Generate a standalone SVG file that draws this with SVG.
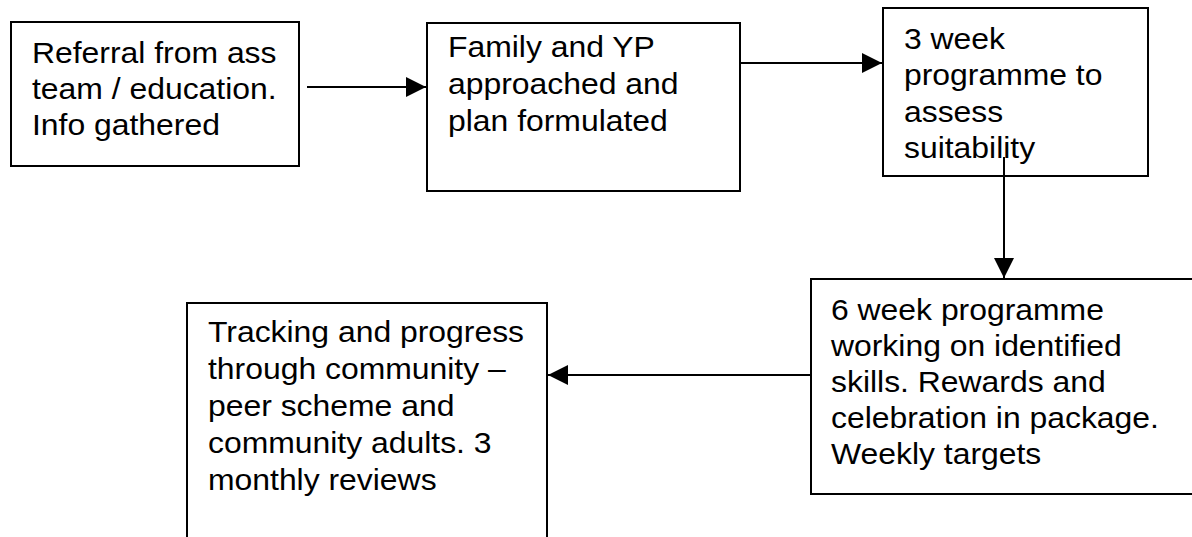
<svg xmlns="http://www.w3.org/2000/svg" width="1192" height="537" viewBox="0 0 1192 537">
<defs>
<style>
.box{fill:#fff;stroke:#000;stroke-width:2}
.lbl{font-family:"Liberation Sans",Arial,sans-serif;font-size:29px;fill:#000}
.conn{stroke:#000;stroke-width:2;fill:none}
</style>
<marker id="ah" viewBox="0 0 20 20" refX="20" refY="10" markerWidth="20" markerHeight="20" markerUnits="userSpaceOnUse" orient="auto">
<path d="M0,0 L20,10 L0,20 Z" fill="#000"/>
</marker>
</defs>
<rect width="1192" height="537" fill="#fff"/>
<g id="referral">
<rect class="box" x="11" y="22" width="288" height="144"/>
<text class="lbl" transform="translate(32,0) scale(1.1,1)"><tspan x="0" y="63">Referral from ass</tspan><tspan x="0" y="99">team / education.</tspan><tspan x="0" y="135">Info gathered</tspan></text>
</g>
<g id="family">
<rect class="box" x="427" y="23" width="313" height="168"/>
<text class="lbl" transform="translate(448,0) scale(1.1,1)"><tspan x="0" y="57">Family and YP</tspan><tspan x="0" y="94">approached and</tspan><tspan x="0" y="131">plan formulated</tspan></text>
</g>
<g id="three-week">
<rect class="box" x="883" y="8" width="265" height="168"/>
<text class="lbl" transform="translate(904,0) scale(1.1,1)"><tspan x="0" y="49">3 week</tspan><tspan x="0" y="85.5">programme to</tspan><tspan x="0" y="122">assess</tspan><tspan x="0" y="158.5">suitability</tspan></text>
</g>
<g id="six-week">
<rect class="box" x="811" y="279" width="400" height="215"/>
<text class="lbl" transform="translate(831,0) scale(1.1,1)"><tspan x="0" y="320">6 week programme</tspan><tspan x="0" y="356.5">working on identified</tspan><tspan x="0" y="392">skills. Rewards and</tspan><tspan x="0" y="428">celebration in package.</tspan><tspan x="0" y="464">Weekly targets</tspan></text>
</g>
<g id="tracking">
<rect class="box" x="187" y="303" width="360" height="260"/>
<text class="lbl" transform="translate(208,0) scale(1.1,1)"><tspan x="0" y="342">Tracking and progress</tspan><tspan x="0" y="379">through community –</tspan><tspan x="0" y="416">peer scheme and</tspan><tspan x="0" y="453">community adults. 3</tspan><tspan x="0" y="490">monthly reviews</tspan></text>
</g>
<g id="connectors">
<line class="conn" x1="307" y1="87" x2="426" y2="87" marker-end="url(#ah)"/>
<line class="conn" x1="740" y1="63" x2="882" y2="63" marker-end="url(#ah)"/>
<line class="conn" x1="1004" y1="157" x2="1004" y2="278" marker-end="url(#ah)"/>
<line class="conn" x1="811" y1="375" x2="548" y2="375" marker-end="url(#ah)"/>
</g>
</svg>
